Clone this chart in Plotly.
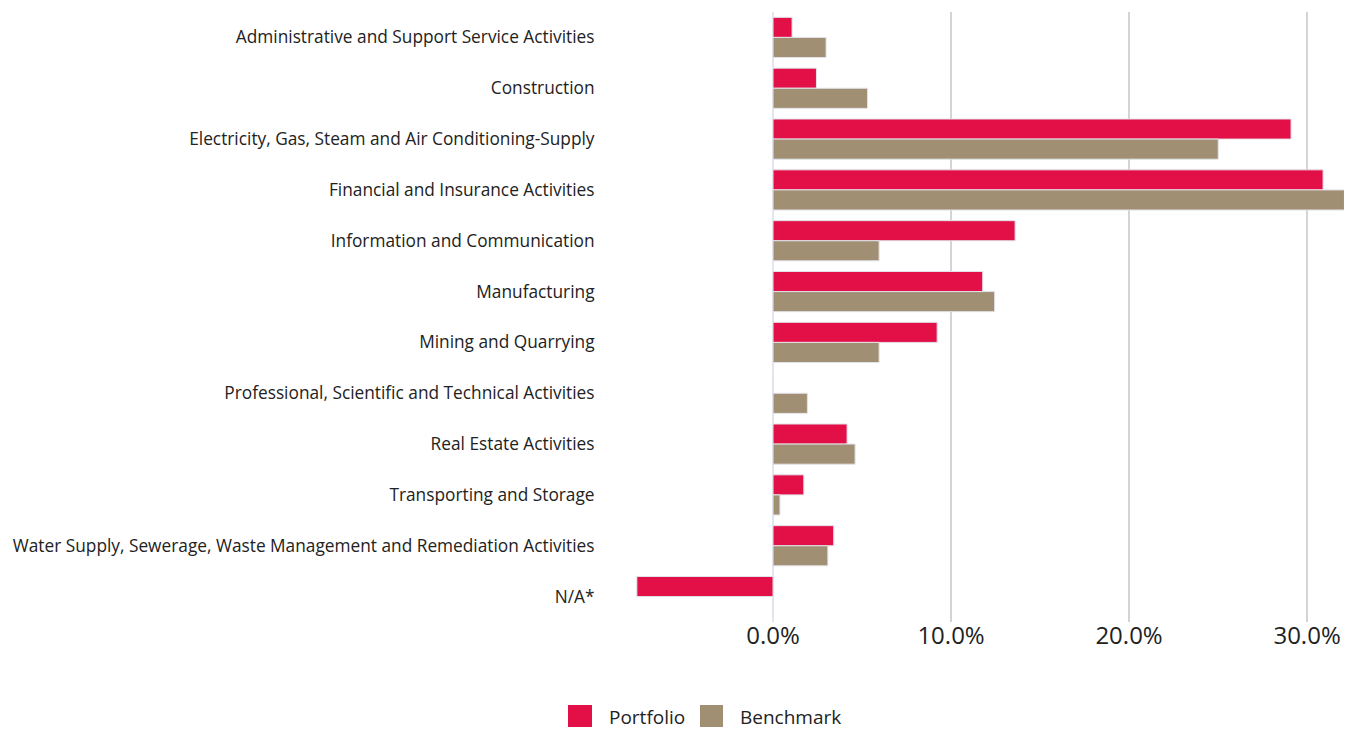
import plotly.graph_objects as go

categories = [
    "Administrative and Support Service Activities",
    "Construction",
    "Electricity, Gas, Steam and Air Conditioning-Supply",
    "Financial and Insurance Activities",
    "Information and Communication",
    "Manufacturing",
    "Mining and Quarrying",
    "Professional, Scientific and Technical Activities",
    "Real Estate Activities",
    "Transporting and Storage",
    "Water Supply, Sewerage, Waste Management and Remediation Activities",
    "N/A*",
]
portfolio = [1.07, 2.44, 29.1, 30.9, 13.6, 11.78, 9.22, 0.0, 4.16, 1.73, 3.41, -7.65]
benchmark = [2.98, 5.31, 25.01, 32.1, 5.96, 12.45, 5.96, 1.93, 4.61, 0.39, 3.08, 0.0]
tick_vals = [0, 10, 20, 30]
tick_text = ["0.0%", "10.0%", "20.0%", "30.0%"]
series_names = ["Portfolio", "Benchmark"]
series_colors = ["#E31048", "#A08F72"]

FONT = "Open Sans"

# page has an 8px body margin; figure is sized/offset to compensate
OFF = 8
W, H = 1352 - OFF, 730 - OFF
PL, PR, PT, PB = 600, 1348, 12, 622  # plot area in screen pixels


def px(x):
    return (x - PL) / (PR - PL)


def py(y):
    return (PB - y) / (PB - PT)


fig = go.Figure()
for name, vals, col in zip(series_names, [portfolio, benchmark], series_colors):
    fig.add_trace(go.Bar(
        y=categories, x=vals, orientation="h", name=name,
        marker=dict(color=col, line=dict(color="#e2e2ea", width=1)),
        showlegend=False,
    ))

# custom legend (large squares)
legend_items = [
    (568, 592, 607),
    (700, 723, 738),
]
shapes = []
annotations = []
for (x0, x1, tx), name, col in zip(legend_items, series_names, series_colors):
    shapes.append(dict(type="rect", xref="paper", yref="paper",
                       x0=px(x0), x1=px(x1), y0=py(727), y1=py(705),
                       fillcolor=col, line=dict(width=0)))
    annotations.append(dict(xref="paper", yref="paper", x=px(tx), y=py(717),
                            xanchor="left", yanchor="middle", showarrow=False,
                            text=name, font=dict(size=19, color="#222222", family=FONT)))

fig.update_layout(
    width=W, height=H,
    margin=dict(l=PL - OFF, r=W - (PR - OFF), t=PT - OFF, b=H - (PB - OFF)),
    paper_bgcolor="white", plot_bgcolor="white",
    barmode="group", bargap=0.21, bargroupgap=0.0,
    font=dict(family=FONT, color="#222222"),
    shapes=shapes, annotations=annotations,
    xaxis=dict(
        range=[-9.72, 32.3],
        tickvals=tick_vals, ticktext=tick_text,
        showgrid=True, gridcolor="#d4d4d4", gridwidth=2,
        zeroline=True, zerolinecolor="#e2e6ee", zerolinewidth=2,
        tickfont=dict(size=24, color="#222222"),
        ticks="", ticklabelstandoff=-3,
        showline=False, automargin=False,
    ),
    yaxis=dict(
        autorange="reversed",
        tickfont=dict(size=17.3, color="#222222"),
        showgrid=False, showline=False,
        ticks="outside", ticklen=1, tickcolor="rgba(0,0,0,0)",
        automargin=False,
    ),
)

fig.write_html("out.html")
